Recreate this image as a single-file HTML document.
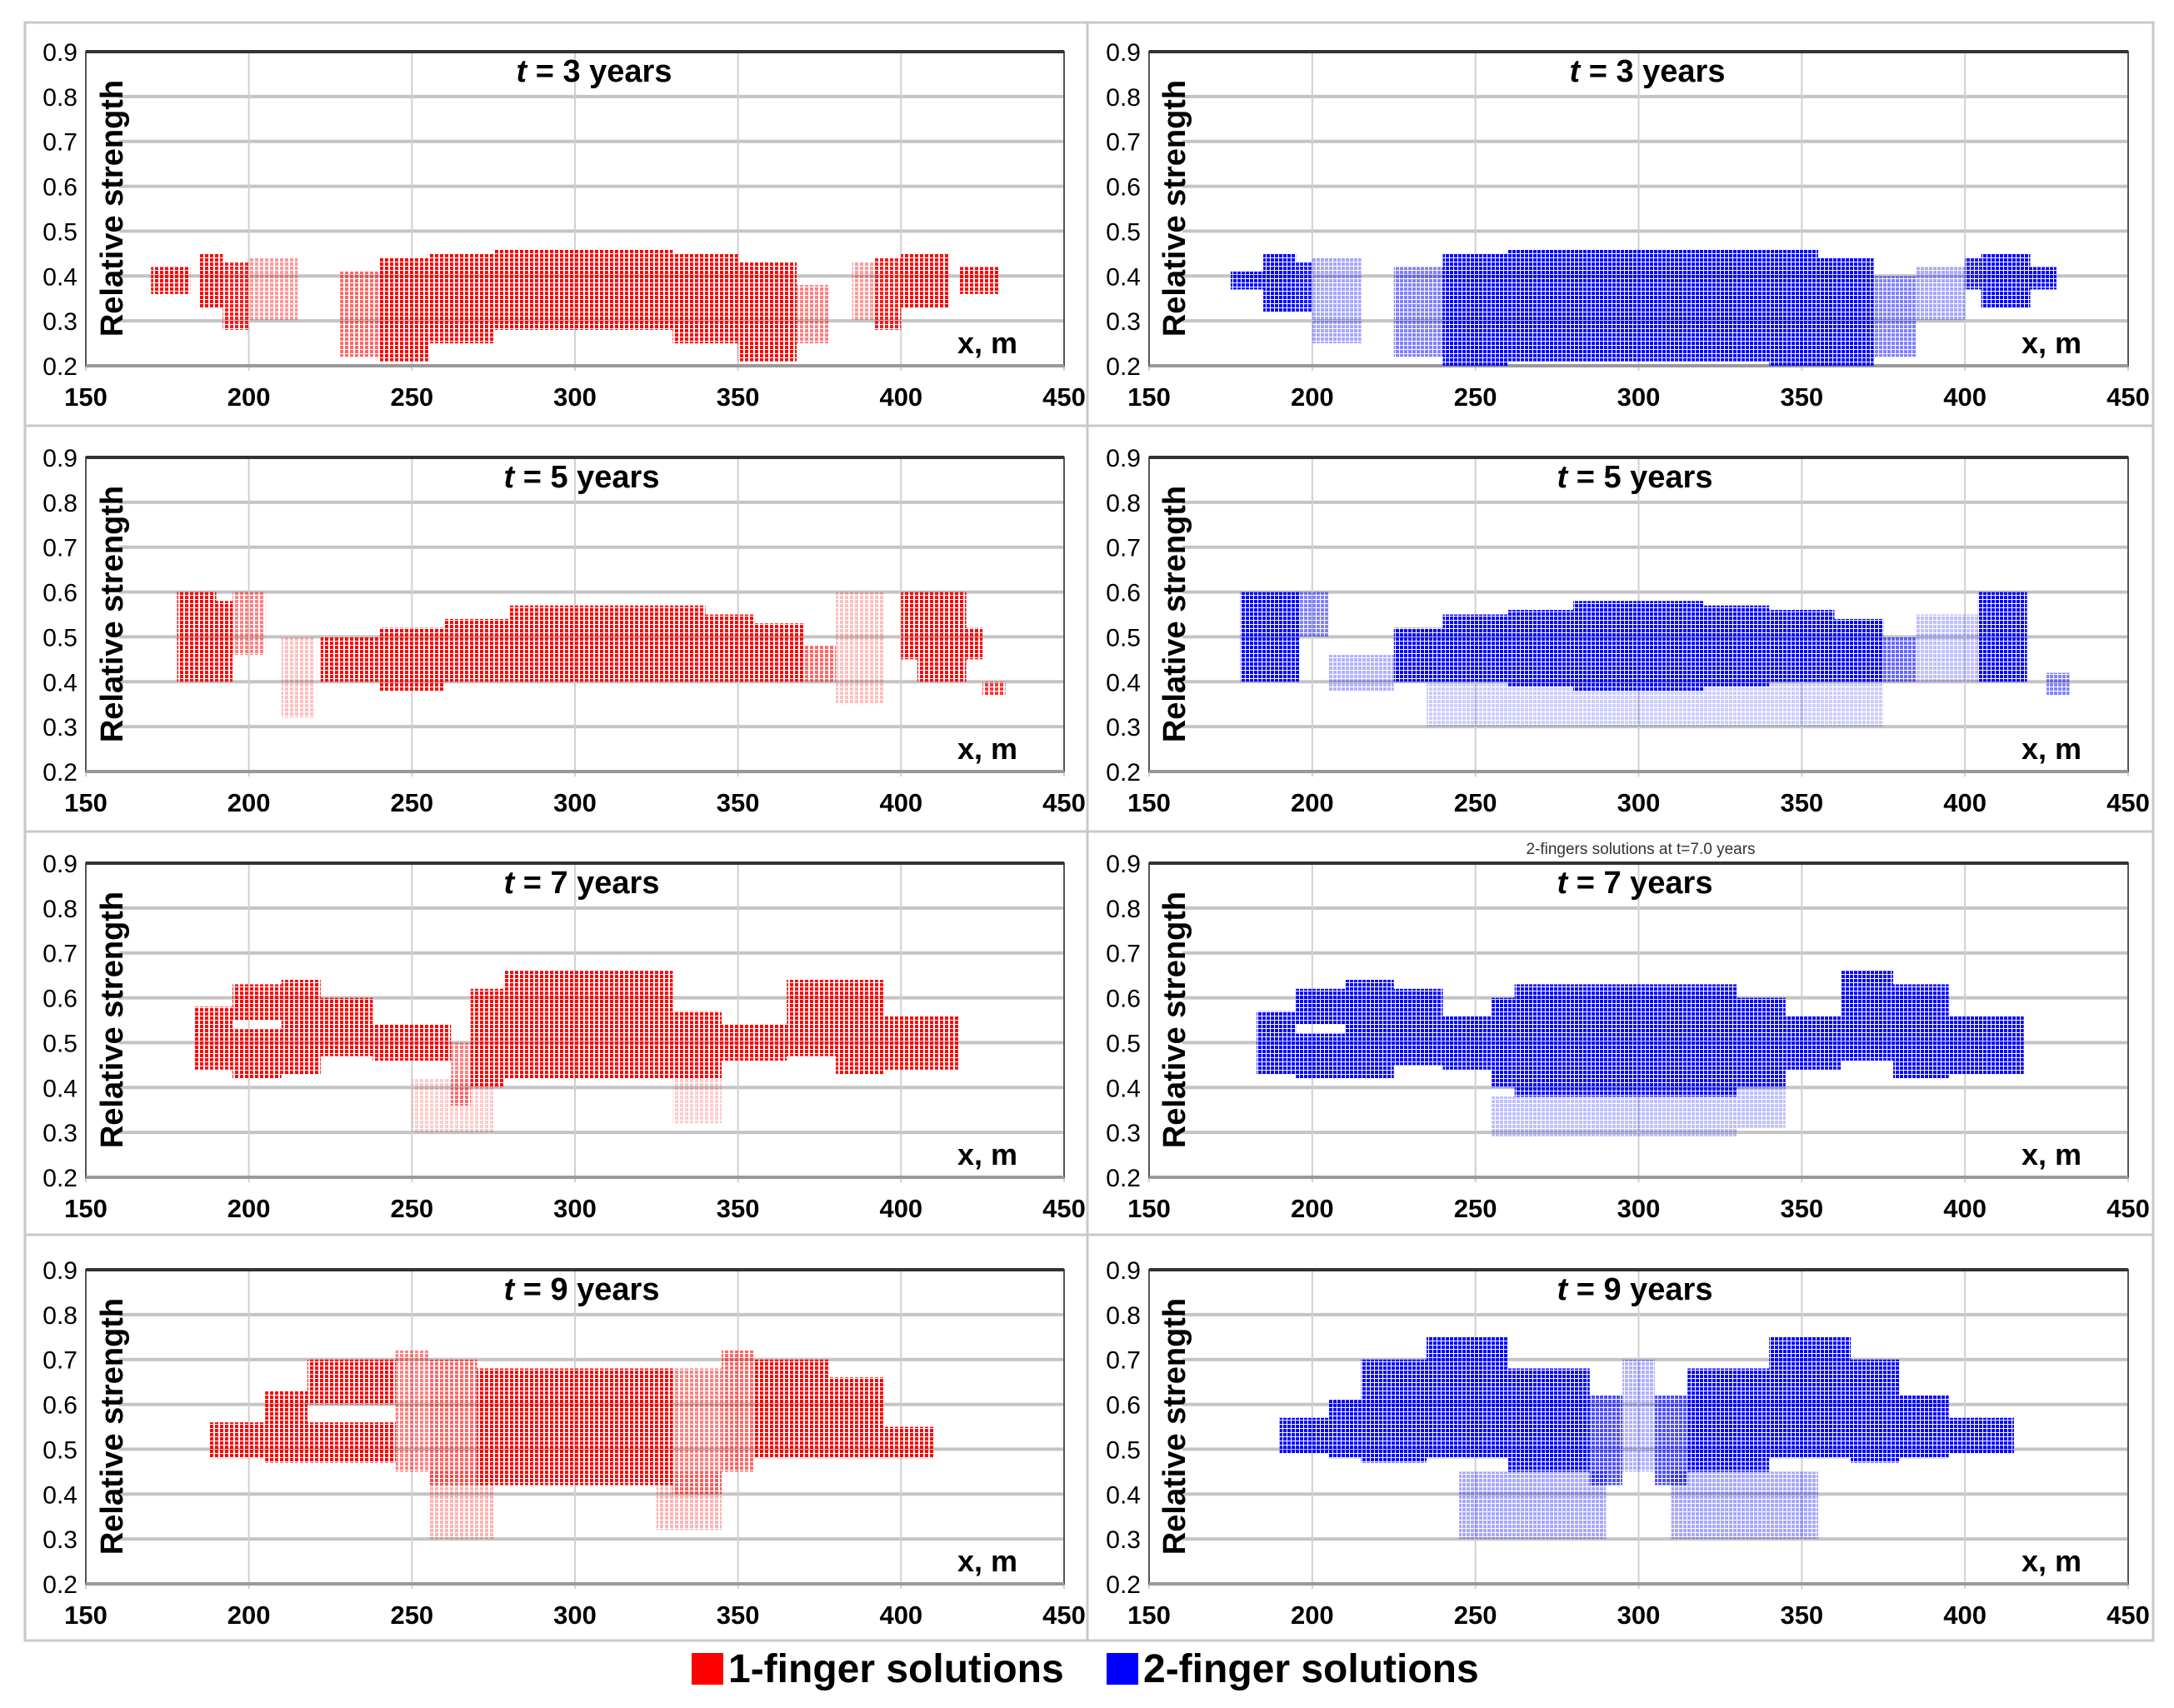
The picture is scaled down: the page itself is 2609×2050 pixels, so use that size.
<!DOCTYPE html>
<html><head><meta charset="utf-8">
<style>
html,body{margin:0;padding:0;background:#fff;}
body{width:2609px;height:2045px;overflow:hidden;font-family:"Liberation Sans",sans-serif;}
svg text{font-family:"Liberation Sans",sans-serif;}
</style></head>
<body>
<svg id="fig" width="2609" height="2045" viewBox="0 0 2609 2045" xmlns="http://www.w3.org/2000/svg">
<defs>
<pattern id="stripeR" width="6" height="5" patternUnits="userSpaceOnUse"><rect x="0" y="0" width="4" height="4" fill="#ff0000"/></pattern>
<pattern id="stripeB" width="5" height="5" patternUnits="userSpaceOnUse"><rect x="0" y="0" width="4" height="4" fill="#0000ff"/></pattern>
</defs>
<rect x="30" y="27" width="2554" height="1942" fill="none" stroke="#c8c8c8" stroke-width="3"/>
<g id="panels"></g>
<text x="1969" y="1025" font-size="19" text-anchor="middle" fill="#333">2-fingers solutions at t=7.0 years</text>
<g>
<rect x="830" y="1984" width="38" height="38" fill="#ff0000"/>
<text x="874" y="2019" font-size="48" font-weight="bold">1-finger solutions</text>
<rect x="1328" y="1984" width="38" height="38" fill="#0000ff"/>
<text x="1372" y="2019" font-size="48" font-weight="bold">2-finger solutions</text>
</g>
</svg>
<script>
// axis ticks
const xTicks=[150,200,250,300,350,400,450];
const yTicks=[0.2,0.3,0.4,0.5,0.6,0.7,0.8,0.9];
const yTickLabels=["0.2","0.3","0.4","0.5","0.6","0.7","0.8","0.9"];
const titles=["3","3","5","5","7","7","9","9"];

// Panel data: segment x-start, x-end, low, high, density
const p1Xs=[170,185,192,200,228,240,255,275,330,350,368,385,392,400,418];
const p1Xe=[182,192,200,215,240,255,275,330,350,368,378,392,400,415,430];
const p1Lo=[0.36,0.33,0.28,0.30,0.22,0.21,0.25,0.28,0.25,0.21,0.25,0.30,0.28,0.33,0.36];
const p1Hi=[0.42,0.45,0.43,0.44,0.41,0.44,0.45,0.46,0.45,0.43,0.38,0.43,0.44,0.45,0.42];
const p1D=[1,1,0.9,0.4,0.6,1,1,1,1,1,0.5,0.4,0.9,1,1];

const p2Xs=[175,185,195,200,225,240,260,300,340,355,372,385,400,405,420];
const p2Xe=[185,195,200,215,240,260,300,340,355,372,385,400,405,420,428];
const p2Lo=[0.37,0.32,0.32,0.25,0.22,0.20,0.21,0.21,0.20,0.20,0.22,0.30,0.37,0.33,0.37];
const p2Hi=[0.41,0.45,0.43,0.44,0.42,0.45,0.46,0.46,0.46,0.44,0.40,0.42,0.44,0.45,0.42];
const p2D=[1,1,0.9,0.35,0.5,1,1,1,1,1,0.5,0.35,0.9,1,1];

const p3Xs=[178,190,195,210,222,240,260,280,340,355,370,380,400,405,420,425];
const p3Xe=[190,195,205,220,240,260,280,340,355,370,380,395,405,420,425,432];
const p3Lo=[0.40,0.40,0.46,0.32,0.40,0.38,0.40,0.40,0.40,0.40,0.40,0.35,0.45,0.40,0.45,0.37];
const p3Hi=[0.60,0.58,0.60,0.50,0.50,0.52,0.54,0.57,0.55,0.53,0.48,0.60,0.60,0.60,0.52,0.40];
const p3D=[1,1,0.5,0.25,1,1,1,1,1,1,0.6,0.25,1,1,1,0.8];

const p4Xs=[178,196,205,225,240,260,280,320,340,360,375,385,404,425,235];
const p4Xe=[196,205,225,240,260,280,320,340,360,375,385,404,419,432,375];
const p4Lo=[0.40,0.50,0.38,0.40,0.40,0.39,0.38,0.39,0.40,0.40,0.40,0.40,0.40,0.37,0.30];
const p4Hi=[0.60,0.60,0.46,0.52,0.55,0.56,0.58,0.57,0.56,0.54,0.50,0.55,0.60,0.42,0.40];
const p4D=[1,0.5,0.3,1,1,1,1,1,1,1,0.6,0.25,1,0.5,0.2];

const p5Xs=[183,195,195,210,210,222,238,262,268,278,330,345,365,380,380,395,250,330];
const p5Xe=[195,210,210,222,222,238,262,268,278,330,345,365,380,395,395,418,275,345];
const p5Lo=[0.44,0.55,0.42,0.50,0.43,0.47,0.46,0.36,0.40,0.42,0.42,0.46,0.47,0.55,0.43,0.44,0.30,0.32];
const p5Hi=[0.58,0.63,0.53,0.64,0.52,0.60,0.54,0.50,0.62,0.66,0.57,0.54,0.64,0.64,0.55,0.56,0.42,0.42];
const p5D=[1,1,1,1,1,1,1,0.5,1,1,1,1,1,1,1,1,0.2,0.2];

const p6Xs=[183,195,195,210,210,225,240,255,262,280,330,345,362,378,378,395,255,330];
const p6Xe=[195,210,210,225,225,240,255,262,280,330,345,362,378,395,395,418,330,345];
const p6Lo=[0.43,0.54,0.42,0.48,0.42,0.45,0.44,0.40,0.38,0.38,0.40,0.44,0.46,0.54,0.42,0.43,0.29,0.31];
const p6Hi=[0.57,0.62,0.52,0.64,0.52,0.62,0.56,0.60,0.63,0.63,0.60,0.56,0.66,0.63,0.54,0.56,0.38,0.40];
const p6D=[1,1,1,1,1,1,1,1,1,1,1,1,1,1,1,1,0.25,0.25];

const p7Xs=[188,205,218,218,245,255,270,330,345,355,355,378,378,395,255,325];
const p7Xe=[205,218,245,245,255,270,330,345,355,378,378,395,395,410,275,345];
const p7Lo=[0.48,0.47,0.60,0.47,0.45,0.42,0.42,0.40,0.45,0.58,0.48,0.55,0.48,0.48,0.30,0.32];
const p7Hi=[0.56,0.63,0.70,0.56,0.72,0.70,0.68,0.68,0.72,0.70,0.60,0.66,0.55,0.55,0.45,0.45];
const p7D=[1,1,1,1,0.5,0.6,1,0.5,0.6,1,1,1,1,1,0.3,0.3];

const p8Xs=[190,205,215,235,260,285,295,305,315,340,365,380,395,245,310];
const p8Xe=[205,215,235,260,285,295,305,315,340,365,380,395,415,290,355];
const p8Lo=[0.49,0.48,0.47,0.48,0.45,0.42,0.45,0.42,0.45,0.48,0.47,0.48,0.49,0.30,0.30];
const p8Hi=[0.57,0.61,0.70,0.75,0.68,0.62,0.70,0.62,0.68,0.75,0.70,0.62,0.57,0.45,0.45];
const p8D=[1,1,1,1,1,0.7,0.3,0.7,1,1,1,1,1,0.35,0.35];

const panelsData=[
 [p1Xs,p1Xe,p1Lo,p1Hi,p1D],[p2Xs,p2Xe,p2Lo,p2Hi,p2D],
 [p3Xs,p3Xe,p3Lo,p3Hi,p3D],[p4Xs,p4Xe,p4Lo,p4Hi,p4D],
 [p5Xs,p5Xe,p5Lo,p5Hi,p5D],[p6Xs,p6Xe,p6Lo,p6Hi,p6D],
 [p7Xs,p7Xe,p7Lo,p7Hi,p7D],[p8Xs,p8Xe,p8Lo,p8Hi,p8D]];

const NS="http://www.w3.org/2000/svg";
const root=document.getElementById('panels');
function mk(tag,attrs,parent){const e=document.createElementNS(NS,tag);for(const k in attrs)e.setAttribute(k,attrs[k]);parent.appendChild(e);return e;}
const colsX=[[30,1305,103,1277],[1305,2584,1379,2554]];
const rowsY=[[27,511,62],[511,998,549],[998,1482,1036],[1482,1969,1524]];
const PH=377;
for(let i=0;i<8;i++){
  const r=Math.floor(i/2), c=i%2;
  const [fx0,fx1,px0,px1]=colsX[c];
  const [fy0,fy1,py0]=rowsY[r];
  const py1=py0+PH;
  const g=mk('g',{},root);
  
  
  const xS=v=>px0+(v-150)/300*(px1-px0);
  const yS=v=>py1-(v-0.2)/0.7*(py1-py0);
  const fr=mk('rect',{x:fx0,y:fy0,width:fx1-fx0,height:fy1-fy0,fill:'none',stroke:'#c8c8c8','stroke-width':3},g);
  
  
  yTicks.forEach((t,k)=>{
    const y=yS(t);
    const ln=mk('line',{x1:px0+40,x2:px1,y1:y,y2:y,stroke:'#c4c4c4','stroke-width':4},g);
    
    
    const tx=mk('text',{x:px0-10,y:y+11,'font-size':30,'text-anchor':'end'},g);
    tx.textContent=yTickLabels[k];
    
    
  });
  xTicks.forEach(t=>{
    const x=xS(t);
    const ln=mk('line',{x1:x,x2:x,y1:py0,y2:py1+6,stroke:'#d0d0d0','stroke-width':2},g);
    
    
    const tx=mk('text',{x:x,y:py1+48,'font-size':31,'font-weight':'bold','text-anchor':'middle'},g);
    tx.textContent=String(t);
    
    
  });
  const ax=mk('path',{d:`M${px0},${py0}L${px1},${py0}L${px1},${py1}L${px0},${py1}Z`,fill:'none',stroke:'#555','stroke-width':2},g);
  
  
  mk('line',{x1:px0,x2:px1,y1:py0,y2:py0,stroke:'#333','stroke-width':4},g);
  mk('line',{x1:px0,x2:px1,y1:py1,y2:py1,stroke:'#999','stroke-width':4},g);
  const [xs,xe,lo,hi,d]=panelsData[i];
  const fill=c===0?'url(#stripeR)':'url(#stripeB)';
  for(let k=0;k<xs.length;k++){
    const rc=mk('rect',{x:xS(xs[k]),y:yS(hi[k]),width:xS(xe[k])-xS(xs[k]),height:yS(lo[k])-yS(hi[k]),fill:fill,opacity:d[k]},g);
    
    
  }
  const tt=mk('text',{x:(c===0?698:1962)+(r===0?15:0),y:py0+36,'font-size':38,'font-weight':'bold','text-anchor':'middle'},g);
  tt.innerHTML='<tspan font-style="italic">t</tspan> = '+titles[i]+' years';
  
  
  const xl=mk('text',{x:c===0?1185:2462,y:py0+362,'font-size':36,'font-weight':'bold','text-anchor':'middle'},g);
  xl.textContent='x, m';
  
  
  const yl=mk('text',{x:0,y:0,'font-size':38,'font-weight':'bold','text-anchor':'middle',transform:`translate(${c===0?147:1422},${py0+188}) rotate(-90)`},g);
  yl.textContent='Relative strength';
  
  
}
</script>
</body></html>
